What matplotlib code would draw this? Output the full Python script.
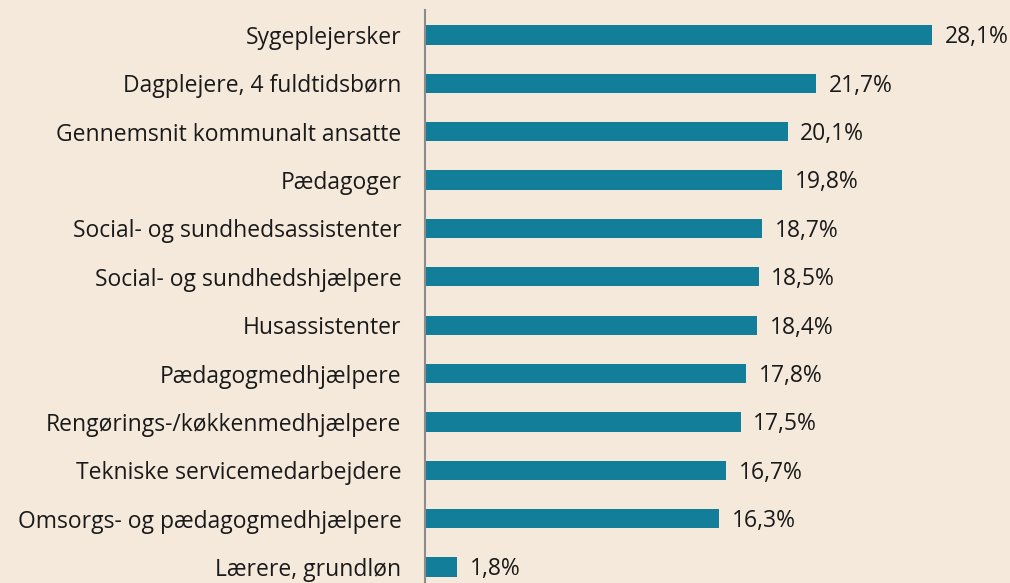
import matplotlib
matplotlib.use("Agg")
import matplotlib.pyplot as plt

categories = ["Sygeplejersker", "Dagplejere, 4 fuldtidsbørn", "Gennemsnit kommunalt ansatte",
              "Pædagoger", "Social- og sundhedsassistenter", "Social- og sundhedshjælpere",
              "Husassistenter", "Pædagogmedhjælpere", "Rengørings-/køkkenmedhjælpere",
              "Tekniske servicemedarbejdere", "Omsorgs- og pædagogmedhjælpere", "Lærere, grundløn"]
values = [28.1, 21.7, 20.1, 19.8, 18.7, 18.5, 18.4, 17.8, 17.5, 16.7, 16.3, 1.8]
value_labels = ["28,1%", "21,7%", "20,1%", "19,8%", "18,7%", "18,5%", "18,4%", "17,8%",
                "17,5%", "16,7%", "16,3%", "1,8%"]

plt.rcParams['font.family'] = ['Open Sans', 'DejaVu Sans']
bg = "#F5E9DC"
bar_color = "#127E99"
txt = "#1A1A1A"
fs = 16.5

fig = plt.figure(figsize=(10.1, 5.83), dpi=100, facecolor=bg)
ax = fig.add_axes([425/1010, 0, 585/1010, 573/583])
ax.set_facecolor(bg)

y = list(range(len(categories)))
ax.barh(y, values, height=0.4, color=bar_color)
for yi, v, lab in zip(y, values, value_labels):
    ax.text(v + 0.7, yi + 0.05, lab, va='center', ha='left', fontsize=fs, color=txt)

ax.set_xlim(0, 585/18.04)
ax.set_ylim(len(categories) - 1 + 0.33, -0.516)
ax.set_yticks(y)
ax.set_yticklabels(categories, fontsize=fs, color=txt)
ax.tick_params(axis='y', length=0, pad=17)
ax.set_xticks([])
for s in ['top', 'right', 'bottom']:
    ax.spines[s].set_visible(False)
ax.spines['left'].set_color('#8C8C8C')
ax.spines['left'].set_linewidth(1.5)

fig.savefig("out.png", dpi=100, facecolor=bg)
